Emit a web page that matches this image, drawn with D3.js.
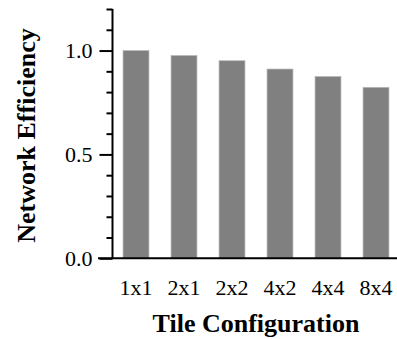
<!DOCTYPE html>
<html>
<head>
<meta charset="utf-8">
<script src="https://cdn.jsdelivr.net/npm/d3@7"></script>
<style>
  body { margin: 0; background: #fff; }
  svg { display: block; }
  text { font-family: "Liberation Serif", "Times New Roman", serif; fill: #000; }
</style>
</head>
<body>
<svg id="chart" width="397" height="339"></svg>
<script>
// chart data
var configs = ['1x1', '2x1', '2x2', '4x2', '4x4', '8x4'];
var efficiency = [1.0, 0.976, 0.951, 0.911, 0.875, 0.823];
var majorTicks = [0.0, 0.5, 1.0];
var minorTicks = [0.1, 0.2, 0.3, 0.4, 0.6, 0.7, 0.8, 0.9, 1.1, 1.2];

var svg = d3.select('#chart');

var x = d3.scaleBand()
    .domain(configs)
    .range([112, 400])
    .paddingInner(0.46)
    .paddingOuter(0.23);

var y = d3.scaleLinear()
    .domain([0, 1.2])
    .range([258.3, 9]);

// bars
svg.selectAll('.bar')
    .data(configs)
  .enter()
  .append('rect')
    .attr('class', 'bar')
    .attr('x', function (d) { return x(d); })
    .attr('width', x.bandwidth())
    .attr('y', function (d, i) { return y(efficiency[i]); })
    .attr('height', function (d, i) { return y(0) - y(efficiency[i]); })
    .attr('fill', '#808080')
    .attr('stroke', '#b8b8b8')
    .attr('stroke-width', 0.7);

// y axis, major ticks with labels
var yAxis = svg.append('g')
    .attr('transform', 'translate(112.5,0)')
    .call(d3.axisLeft(y)
        .tickValues(majorTicks)
        .tickSize(13)
        .tickPadding(7)
        .tickFormat(d3.format('.1f')));
yAxis.select('.domain').remove();
yAxis.selectAll('line').attr('stroke', '#000').attr('stroke-width', 2);
yAxis.selectAll('text')
    .style('font-size', '22px')
    .attr('dy', '0.33em');

// y axis, minor ticks
var yMinor = svg.append('g')
    .attr('transform', 'translate(112.5,0)')
    .call(d3.axisLeft(y)
        .tickValues(minorTicks)
        .tickSize(6)
        .tickFormat(''));
yMinor.select('.domain').remove();
yMinor.selectAll('line').attr('stroke', '#000').attr('stroke-width', 2);

// axis lines
svg.append('line')
    .attr('x1', 112.5).attr('x2', 112.5)
    .attr('y1', y(1.2)).attr('y2', y(0))
    .attr('stroke', '#000').attr('stroke-width', 2);
svg.append('line')
    .attr('x1', 98).attr('x2', 397)
    .attr('y1', y(0)).attr('y2', y(0))
    .attr('stroke', '#000').attr('stroke-width', 2);

// x tick labels
var xAxis = svg.append('g')
    .attr('transform', 'translate(0,' + y(0) + ')')
    .call(d3.axisBottom(x).tickSize(0).tickPadding(21));
xAxis.select('.domain').remove();
xAxis.selectAll('text').style('font-size', '22px');

// axis titles
svg.append('text')
    .attr('x', 256)
    .attr('y', 332)
    .attr('text-anchor', 'middle')
    .style('font-size', '26px')
    .style('font-weight', 'bold')
    .text('Tile Configuration');

svg.append('text')
    .attr('transform', 'translate(35,135.5) rotate(-90)')
    .attr('text-anchor', 'middle')
    .style('font-size', '26px')
    .style('font-weight', 'bold')
    .text('Network Efficiency');
</script>
</body>
</html>
